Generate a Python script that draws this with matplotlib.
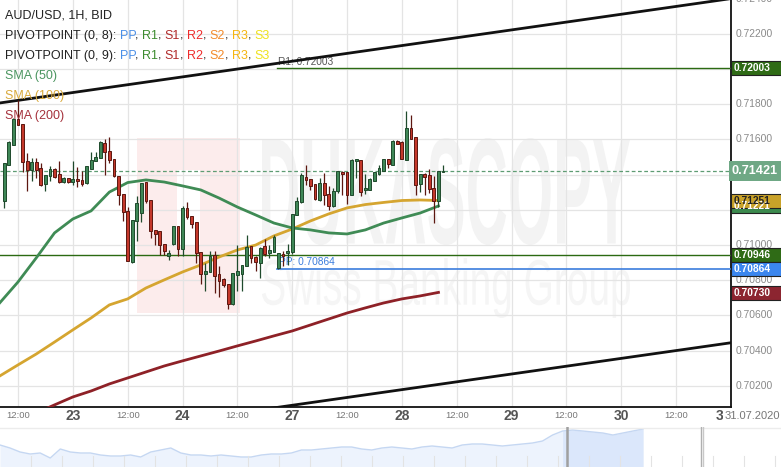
import numpy as np
import matplotlib.pyplot as plt
from matplotlib.patches import Rectangle, PathPatch
from matplotlib.textpath import TextPath
from matplotlib.font_manager import FontProperties
from matplotlib.transforms import Affine2D, blended_transform_factory

# hourly candles, hour 0 = 22.07 00:00 (weekend removed)
hours = np.arange(9, 106)
opens = [0.71250, 0.71455, 0.71568, 0.71716, 0.71688, 0.71478, 0.71426, 0.71472, 0.71438, 0.71347,
         0.71392, 0.71432, 0.71404, 0.71358, 0.71381, 0.71358, 0.71375, 0.71370, 0.71353, 0.71432,
         0.71478, 0.71495, 0.71580, 0.71534, 0.71489, 0.71392, 0.71290, 0.71194, 0.70904, 0.71137,
         0.71182, 0.71358, 0.71256, 0.71086, 0.71080, 0.71006, 0.70938, 0.71006, 0.71108, 0.70978,
         0.71211, 0.71165, 0.71131, 0.70961, 0.70836, 0.70847, 0.70944, 0.70836, 0.70807, 0.70779,
         0.70665, 0.70830, 0.70836, 0.70881, 0.70995, 0.70932, 0.70898, 0.70995, 0.70955, 0.70961,
         0.70870, 0.70949, 0.70955, 0.70961, 0.71171, 0.71245, 0.71387, 0.71375, 0.71347, 0.71256,
         0.71353, 0.71290, 0.71222, 0.71307, 0.71415, 0.71415, 0.71284, 0.71478, 0.71483, 0.71313,
         0.71313, 0.71364, 0.71404, 0.71421, 0.71489, 0.71455, 0.71591, 0.71585, 0.71483, 0.71665,
         0.71614, 0.71347, 0.71404, 0.71398, 0.71324, 0.71250, 0.71415]
highs = [0.71466, 0.71591, 0.71722, 0.71824, 0.71688, 0.71523, 0.71495, 0.71495, 0.71466, 0.71398,
         0.71449, 0.71438, 0.71478, 0.71387, 0.71381, 0.71478, 0.71443, 0.71421, 0.71449, 0.71529,
         0.71529, 0.71591, 0.71602, 0.71614, 0.71489, 0.71392, 0.71290, 0.71216, 0.71142, 0.71279,
         0.71353, 0.71358, 0.71256, 0.71086, 0.71080, 0.71006, 0.70972, 0.71108, 0.71108, 0.71222,
         0.71245, 0.71165, 0.71131, 0.70961, 0.70898, 0.70966, 0.70966, 0.70881, 0.70813, 0.70779,
         0.70841, 0.71000, 0.70887, 0.71057, 0.70995, 0.70938, 0.70989, 0.71034, 0.71000, 0.71057,
         0.70955, 0.70966, 0.71006, 0.71177, 0.71273, 0.71409, 0.71455, 0.71375, 0.71347, 0.71381,
         0.71409, 0.71336, 0.71324, 0.71421, 0.71421, 0.71415, 0.71489, 0.71489, 0.71483, 0.71404,
         0.71381, 0.71415, 0.71455, 0.71489, 0.71489, 0.71597, 0.71597, 0.71591, 0.71761, 0.71739,
         0.71614, 0.71404, 0.71409, 0.71432, 0.71392, 0.71421, 0.71455]
lows = [0.71211, 0.71455, 0.71568, 0.71682, 0.71415, 0.71307, 0.71364, 0.71381, 0.71336, 0.71307,
        0.71364, 0.71381, 0.71353, 0.71353, 0.71353, 0.71341, 0.71330, 0.71336, 0.71347, 0.71432,
        0.71478, 0.71495, 0.71398, 0.71466, 0.71387, 0.71228, 0.71137, 0.70910, 0.70898, 0.71023,
        0.71131, 0.71239, 0.71040, 0.71000, 0.70944, 0.70944, 0.70915, 0.71000, 0.70938, 0.70938,
        0.71148, 0.71097, 0.70898, 0.70779, 0.70739, 0.70847, 0.70728, 0.70705, 0.70762, 0.70637,
        0.70660, 0.70739, 0.70739, 0.70881, 0.70898, 0.70853, 0.70813, 0.70938, 0.70927, 0.70961,
        0.70864, 0.70881, 0.70887, 0.70949, 0.71171, 0.71239, 0.71341, 0.71313, 0.71256, 0.71250,
        0.71228, 0.71199, 0.71216, 0.71296, 0.71284, 0.71233, 0.71284, 0.71381, 0.71279, 0.71290,
        0.71313, 0.71364, 0.71398, 0.71421, 0.71438, 0.71455, 0.71574, 0.71489, 0.71483, 0.71602,
        0.71284, 0.71301, 0.71284, 0.71296, 0.71125, 0.71216, 0.71415]
closes = [0.71466, 0.71585, 0.71716, 0.71682, 0.71472, 0.71426, 0.71472, 0.71426, 0.71341, 0.71398,
          0.71432, 0.71387, 0.71358, 0.71381, 0.71358, 0.71375, 0.71364, 0.71347, 0.71449, 0.71483,
          0.71500, 0.71585, 0.71529, 0.71483, 0.71392, 0.71284, 0.71188, 0.70910, 0.71142, 0.71239,
          0.71353, 0.71250, 0.71080, 0.71063, 0.71000, 0.70966, 0.70955, 0.71108, 0.70978, 0.71211,
          0.71159, 0.71120, 0.70955, 0.70836, 0.70853, 0.70938, 0.70824, 0.70796, 0.70773, 0.70665,
          0.70841, 0.70853, 0.70887, 0.70989, 0.70927, 0.70904, 0.70983, 0.70949, 0.70972, 0.71046,
          0.70955, 0.70938, 0.70966, 0.71177, 0.71250, 0.71398, 0.71370, 0.71336, 0.71262, 0.71353,
          0.71284, 0.71222, 0.71307, 0.71421, 0.71404, 0.71284, 0.71483, 0.71489, 0.71301, 0.71324,
          0.71375, 0.71415, 0.71438, 0.71489, 0.71460, 0.71591, 0.71574, 0.71489, 0.71665, 0.71602,
          0.71341, 0.71404, 0.71387, 0.71319, 0.71250, 0.71421, 0.71421]

sma_hours = np.arange(8, 105, 4)
sma50 = [0.70671, 0.70790, 0.70927, 0.71069, 0.71148, 0.71194, 0.71301, 0.71355, 0.71370, 0.71358,
         0.71336, 0.71313, 0.71267, 0.71216, 0.71171, 0.71125, 0.71097, 0.71086, 0.71069, 0.71063,
         0.71086, 0.71125, 0.71154, 0.71182, 0.71222]
sma100 = [0.70256, 0.70319, 0.70381, 0.70449, 0.70518, 0.70586, 0.70660, 0.70694, 0.70756, 0.70802,
          0.70847, 0.70887, 0.70932, 0.70972, 0.71000, 0.71052, 0.71091, 0.71137, 0.71177, 0.71211,
          0.71230, 0.71242, 0.71253, 0.71256, 0.71253]
sma200 = [0.69950, 0.69995, 0.70046, 0.70092, 0.70137, 0.70171, 0.70211, 0.70245, 0.70279, 0.70313,
          0.70342, 0.70370, 0.70398, 0.70427, 0.70455, 0.70484, 0.70512, 0.70546, 0.70580, 0.70614,
          0.70643, 0.70671, 0.70694, 0.70711, 0.70731]

trend_hours = [8, 168]
trend_upper = [0.71807, 0.72400]
trend_lower = [0.69853, 0.70445]

pivot_start = 68.7
r1_now, pp_now, r1_prev = 0.72003, 0.70864, 0.70946
last_price = 0.71421
sma_last = [0.71221, 0.71251, 0.70730]

tick_hours = [12, 24, 36, 48, 60, 72, 84, 96, 108, 120, 132, 144, 156, 168]
tick_labels = ['12:00', '23', '12:00', '24', '12:00', '27', '12:00', '28',
               '12:00', '29', '12:00', '30', '12:00', '31']
price_ticks = [0.702, 0.704, 0.706, 0.708, 0.710, 0.712, 0.714, 0.716, 0.718, 0.720, 0.722, 0.724]
hidden_ticks = [0.712, 0.714, 0.720]   # covered by the value boxes

# navigator history (relative level)
nav_vals = [22, 19, 15, 13, 14, 9, 18, 15, 14, 14, 12, 11, 11, 12, 10, 15, 17, 19, 14, 12,
            12, 11, 12, 11, 10, 10, 12, 13, 13, 14, 17, 17, 18, 19, 20, 20, 18, 17, 19, 20,
            19, 18, 20, 21, 20, 19, 22, 23, 23, 22, 21, 22, 23, 24, 26, 32, 36, 37, 36, 35,
            34, 32, 34, 36, 38]

GREEN, GREEN_E = '#3f8757', '#1f4a2c'
RED, RED_E = '#c4382b', '#5c1710'
SANS = ['Liberation Sans', 'DejaVu Sans']
NARROW = ['Liberation Sans Narrow', 'Liberation Sans', 'DejaVu Sans']

W, H = 781, 467
fig = plt.figure(figsize=(W / 100, H / 100), dpi=100)
ax = fig.add_axes([0, 60 / H, 731 / W, 407 / H])
ax.set_xlim(8.07, 167.6)
ax.set_ylim(0.70080, 0.72392)

# watermark
ax.add_patch(Rectangle((137 / 731, 1 - 313 / 407), 103 / 731, 175 / 407, transform=ax.transAxes,
                       fc='#fcecec', ec='none', zorder=0))
ax.add_patch(Rectangle((177 / 731, 1 - 245 / 407), 23 / 731, 75 / 407, transform=ax.transAxes,
                       fc='white', ec='none', zorder=0))


def fit_text(s, box, color, weight='normal'):
    tp = TextPath((0, 0), s, size=100, prop=FontProperties(family='Liberation Sans', weight=weight))
    e = tp.get_extents()
    x0, y0, x1, y1 = box
    tr = (Affine2D().translate(-e.x0, -e.y0).scale((x1 - x0) / e.width, (y1 - y0) / e.height)
          .translate(x0, y0) + ax.transAxes)
    ax.add_patch(PathPatch(tp, transform=tr, fc=color, ec='none', zorder=0))


fit_text('DUKASCOPY', (262 / 731, 1 - 245 / 407, 630 / 731, 1 - 138 / 407), '#f3f3f3', 'bold')
fit_text('Swiss Banking Group', (262 / 731, 1 - 318 / 407, 630 / 731, 1 - 258 / 407), '#f5f5f5')

ax.set_xticks(tick_hours)
ax.set_xticklabels([])
ax.set_yticks(price_ticks[:-1])
ax.set_yticklabels([])
ax.tick_params(length=0)
ax.grid(color='#e4e4e4', lw=0.9, zorder=1)
ax.set_axisbelow(True)
for side in ['top', 'left']:
    ax.spines[side].set_visible(False)
for side in ['right', 'bottom']:
    ax.spines[side].set_color('#111111')
    ax.spines[side].set_linewidth(1.3)

ytr = blended_transform_factory(ax.transAxes, ax.transData)
xtr = blended_transform_factory(ax.transData, ax.transAxes)
for p in price_ticks:
    if p in hidden_ticks:
        continue
    ax.text(1 + 5 / 731, p, f'{p:.5f}', transform=ytr, ha='left', va='center',
            fontsize=7.4, color='#8a8a8a', family=SANS, clip_on=False)
for h, lbl in zip(tick_hours, tick_labels):
    if ':' in lbl:
        ax.text(h, -9 / 407, lbl, transform=xtr, ha='center', va='center',
                fontsize=6.8, color='#777777', family=NARROW, clip_on=False)
    elif h == tick_hours[-1]:
        ax.text(1.0, -9 / 407, lbl, transform=ax.transAxes, ha='right', va='center',
                fontsize=10, color='#555555', family=NARROW, weight='bold', clip_on=False)
    else:
        ax.text(h, -9 / 407, lbl, transform=xtr, ha='center', va='center',
                fontsize=10, color='#555555', family=NARROW, weight='bold', clip_on=False)
fig.text(780 / W, 1 - 416 / H, '31.07.2020', ha='right', va='center', fontsize=8,
         color='#777777', family=SANS,
         bbox=dict(boxstyle='square,pad=0.12', fc='white', ec='none'))

# level lines
ax.axhline(r1_prev, color='#2b6a12', lw=1, zorder=3)
ax.plot([pivot_start, 170], [r1_now, r1_now], color='#2b6a12', lw=1, zorder=3)
ax.plot([pivot_start, 170], [pp_now, pp_now], color='#3b7ddd', lw=1.2, zorder=3)
ax.text(pivot_start + 0.2, r1_now + 0.00009, 'R1: 0.72003', fontsize=7.3, color='#555555',
        family=SANS, va='bottom', zorder=3)
ax.text(pivot_start + 0.4, pp_now + 0.00009, 'PP: 0.70864', fontsize=7.3, color='#3b7ddd',
        family=SANS, va='bottom', zorder=3)
ax.axhline(last_price, color='#5e9c73', lw=0.9, ls=(0, (3, 2)), zorder=3)

# trend channel
ax.plot(trend_hours, trend_upper, color='#111111', lw=2, zorder=4)
ax.plot(trend_hours, trend_lower, color='#111111', lw=2, zorder=4)

# moving averages
ax.plot(sma_hours, sma200, color='#8e2127', lw=2, zorder=5)
ax.plot(sma_hours, sma100, color='#d5a530', lw=2, zorder=5)
ax.plot(sma_hours, sma50, color='#3f8b55', lw=2, zorder=5)

# candles
bw = 0.62
for h, o, hi, lo, c in zip(hours, opens, highs, lows, closes):
    up = c >= o
    fc, ec = (GREEN, GREEN_E) if up else (RED, RED_E)
    ax.plot([h, h], [lo, hi], color=ec, lw=0.9, zorder=6, solid_capstyle='butt')
    bot, top = min(o, c), max(o, c)
    ax.add_patch(Rectangle((h - bw / 2, bot), bw, max(top - bot, 0.00003), fc=fc, ec=ec,
                           lw=0.7, zorder=7))

# right side value boxes
px = (0.72392 - 0.70080) / 407
boxes = [(r1_now, '#2f6b16', 'white', 14, 7.4, 731),
         (last_price, '#6fa885', 'white', 20, 9.2, 729),
         (sma_last[0], '#3c8a4e', 'white', 14, 7.4, 731),
         (sma_last[1], '#c9a229', '#222222', 14, 7.4, 731),
         (r1_prev, '#2f6b16', 'white', 14, 7.4, 731),
         (pp_now, '#3b86ee', 'white', 14, 7.4, 731),
         (sma_last[2], '#8c2530', 'white', 14, 7.4, 731)]
for v, fc, tc, hp, fs, x0 in boxes:
    ax.add_patch(Rectangle(((x0 - 0.5) / 731, v - hp / 2 * px), (W - x0 + 1) / 731, hp * px,
                           transform=ytr, fc=fc, ec='#222222' if hp == 14 else 'none', lw=0.8,
                           clip_on=False, zorder=8))
    ax.text((x0 + 3) / 731, v, f'{v:.5f}', transform=ytr, ha='left', va='center',
            fontsize=fs, color=tc, weight='bold', family=SANS, clip_on=False, zorder=9)

# legend text, top left
renderer = fig.canvas.get_renderer()


def text_width(s):
    t = fig.text(0, 0, s, fontsize=9, family=SANS)
    w = t.get_window_extent(renderer).width
    t.remove()
    return w


def text_line(y, parts):
    done = ''
    for s, col in parts:
        done += s
        word = s.strip()
        x = 5 + text_width(done) - text_width(word)
        fig.text(x / W, 1 - y / H, word, fontsize=9, family=SANS, color=col, va='center')


piv = [('PP', '#4a8fe7'), ('R1', '#3d8b2f'), ('S1', '#b02a2a'), ('R2', '#ee2c2c'),
       ('S2', '#f28a2a'), ('R3', '#f5b50f'), ('S3', '#efe21a')]
text_line(16, [('AUD/USD, 1H, BID', '#222222')])
for y, n in [(36, 8), (56, 9)]:
    parts = [(f'PIVOTPOINT (0, {n}):', '#222222')]
    for i, (s, col) in enumerate(piv):
        parts.append((' ' + s, col))
        if i < len(piv) - 1:
            parts.append((',', '#222222'))
    text_line(y, parts)
text_line(76, [('SMA (50)', '#4b9560')])
text_line(96, [('SMA (100)', '#d9a93a')])
text_line(116, [('SMA (200)', '#a5323c')])

# navigator
nav = fig.add_axes([0, 0, 1, 40 / H])
nav.set_xlim(0, W)
nav.set_ylim(0, 40)
nav.axis('off')
nx = np.linspace(0, 643, len(nav_vals))
nav.fill_between(nx, 0, nav_vals, color='#edf3fd', lw=0)
nav.plot(nx, nav_vals, color='#c5d7f2', lw=1)
sel = nx >= 560
nav.fill_between(nx[sel], 0, np.array(nav_vals)[sel], color='#dbe7fb', lw=0)
for gx in np.arange(31, W, 31):
    nav.plot([gx, gx], [0, 11], color='#e3e3e3', lw=0.8)
nav.plot([0, W], [39.5, 39.5], color='#ececec', lw=1)
nav.plot([567, 567], [0, 40], color='#a0a0a0', lw=1.8)
nav.plot([701, 701], [0, 40], color='#b0b0b0', lw=1)
nav.plot([703, 703], [0, 40], color='#c8c8c8', lw=1)

fig.savefig('out.png', dpi=100)
